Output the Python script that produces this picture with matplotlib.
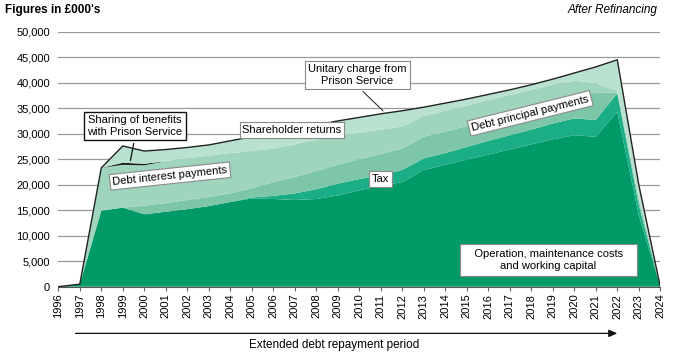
import matplotlib
matplotlib.use("Agg")
import matplotlib.pyplot as plt
import numpy as np

plt.rcParams['font.family'] = ['Liberation Sans', 'DejaVu Sans']

years = list(range(1996, 2025))

# values in £000's, stacked bottom to top
operation = [0, 500, 14900, 15500, 14200, 14700, 15200, 15800, 16600, 17300,
             17200, 17000, 17200, 17900, 18900, 19800, 20500, 22900, 23900, 24900,
             25900, 26900, 27900, 28900, 29700, 29400, 34300, 14000, 0]
tax = [0, 0, 0, 0, 0, 0, 0, 0, 0, 200,
       600, 1300, 1900, 2300, 2200, 2100, 2400, 2250, 2300, 2500,
       2700, 2800, 2900, 3100, 3300, 3300, 3600, 2000, 0]
debt_principal = [0, 0, 0, 0, 1700, 1700, 1800, 1800, 1700, 1800,
                  2700, 3200, 3600, 3700, 3900, 4100, 4200, 4250, 4200, 4100,
                  4100, 4200, 4400, 4600, 4900, 5300, 200, 1000, 0]
debt_interest = [0, 0, 8400, 8400, 7900, 8200, 8200, 8100, 7900, 7300,
                 6600, 6400, 6100, 5700, 5200, 4800, 4300, 4100, 4100, 4000,
                 3900, 3700, 3400, 3000, 2500, 1900, 300, 500, 0]
sharing = [0, 0, 0, 400, 300, 0, 0, 0, 0, 0,
           0, 0, 0, 0, 0, 0, 0, 0, 0, 0,
           0, 0, 0, 0, 0, 0, 0, 0, 0]
shareholder = [0, 0, 0, 3300, 2500, 2300, 2100, 2100, 2400, 2800,
               3000, 3000, 2900, 2900, 3000, 3100, 3100, 1700, 1500, 1300,
               1100, 1000, 1000, 1100, 1500, 3200, 6100, 2500, 0]

colors = ['#009a68', '#1aad86', '#7dc6a7', '#9fd4bd', '#1a1a1a', '#b9e1cf']

fig = plt.figure(figsize=(6.73, 3.55), dpi=100)
ax = fig.add_axes([0.0866, 0.1924, 0.8945, 0.7183])

ax.stackplot(years, operation, tax, debt_principal, debt_interest, sharing, shareholder,
             colors=colors, linewidth=0, zorder=2)
total = np.sum([operation, tax, debt_principal, debt_interest, sharing, shareholder], axis=0)
ax.plot(years, total, color='#222222', lw=1, zorder=3)

ax.set_xlim(1996, 2024)
ax.set_ylim(0, 50000)
ax.set_yticks(range(0, 50001, 5000))
ax.set_yticklabels([f"{v:,}" for v in range(0, 50001, 5000)], fontsize=8)
ax.set_xticks(years)
ax.set_xticklabels([str(y) for y in years], rotation=90, fontsize=8)
ax.tick_params(axis='y', length=0, pad=6)
ax.tick_params(axis='x', length=3, color='#666666', pad=2)
ax.grid(axis='y', color='#9a9a9a', lw=0.9, zorder=0)
ax.set_axisbelow(True)
for s in ['top', 'right', 'left']:
    ax.spines[s].set_visible(False)
ax.spines['bottom'].set_color('#555555')
ax.spines['bottom'].set_linewidth(0.8)

gray_box = dict(boxstyle='square,pad=0.25', fc='white', ec='#8a8a8a', lw=0.8)
black_box = dict(boxstyle='square,pad=0.3', fc='white', ec='#111111', lw=1)

ax.annotate("Unitary charge from\nPrison Service", xy=(2011.2, 34100), xytext=(2009.9, 41500),
            ha='center', va='center', fontsize=8, bbox=dict(gray_box, boxstyle='square,pad=0.3'), zorder=5,
            arrowprops=dict(arrowstyle='-', color='#333333', lw=0.8, relpos=(0.5, 0)))
ax.annotate("Sharing of benefits\nwith Prison Service", xy=(1999.33, 24200), xytext=(1999.57, 31500),
            ha='center', va='center', fontsize=8, bbox=black_box, zorder=5,
            arrowprops=dict(arrowstyle='-', color='#111111', lw=0.9, relpos=(0.5, 0)))
ax.text(2006.87, 30700, "Shareholder returns", ha='center', va='center', fontsize=8,
        bbox=gray_box, zorder=5)
ax.text(2001.2, 21700, "Debt interest payments", ha='center', va='center', fontsize=8,
        rotation=6, rotation_mode='anchor', bbox=gray_box, zorder=5)
ax.text(2017.95, 34000, "Debt principal payments", ha='center', va='center', fontsize=8,
        rotation=14, rotation_mode='anchor', bbox=gray_box, zorder=5)
ax.text(2011.0, 21100, "Tax", ha='center', va='center', fontsize=8, bbox=gray_box, zorder=5)
ax.text(2018.8, 5200, "   Operation, maintenance costs   \nand working capital", ha='center', va='center',
        fontsize=8, bbox=dict(gray_box, boxstyle='square,pad=0.45'), zorder=5)

trans = ax.get_xaxis_transform()
ax.annotate('', xy=(2022, -0.183), xytext=(1996.8, -0.183), xycoords=trans, textcoords=trans,
            arrowprops=dict(arrowstyle='-|>,head_length=0.5,head_width=0.22', color='#111111', lw=0.9,
                            shrinkA=0, shrinkB=0))
ax.text(2008.82, -0.229, "Extended debt repayment period", transform=trans, ha='center', va='center',
        fontsize=8.5)

fig.text(5 / 673, 1 - 10 / 355, "Figures in £000's", fontsize=8.5, fontweight='bold', va='center')
fig.text(657 / 673, 1 - 10 / 355, "After Refinancing", fontsize=8.5, style='italic', ha='right', va='center')

fig.savefig('out.png', dpi=100)
